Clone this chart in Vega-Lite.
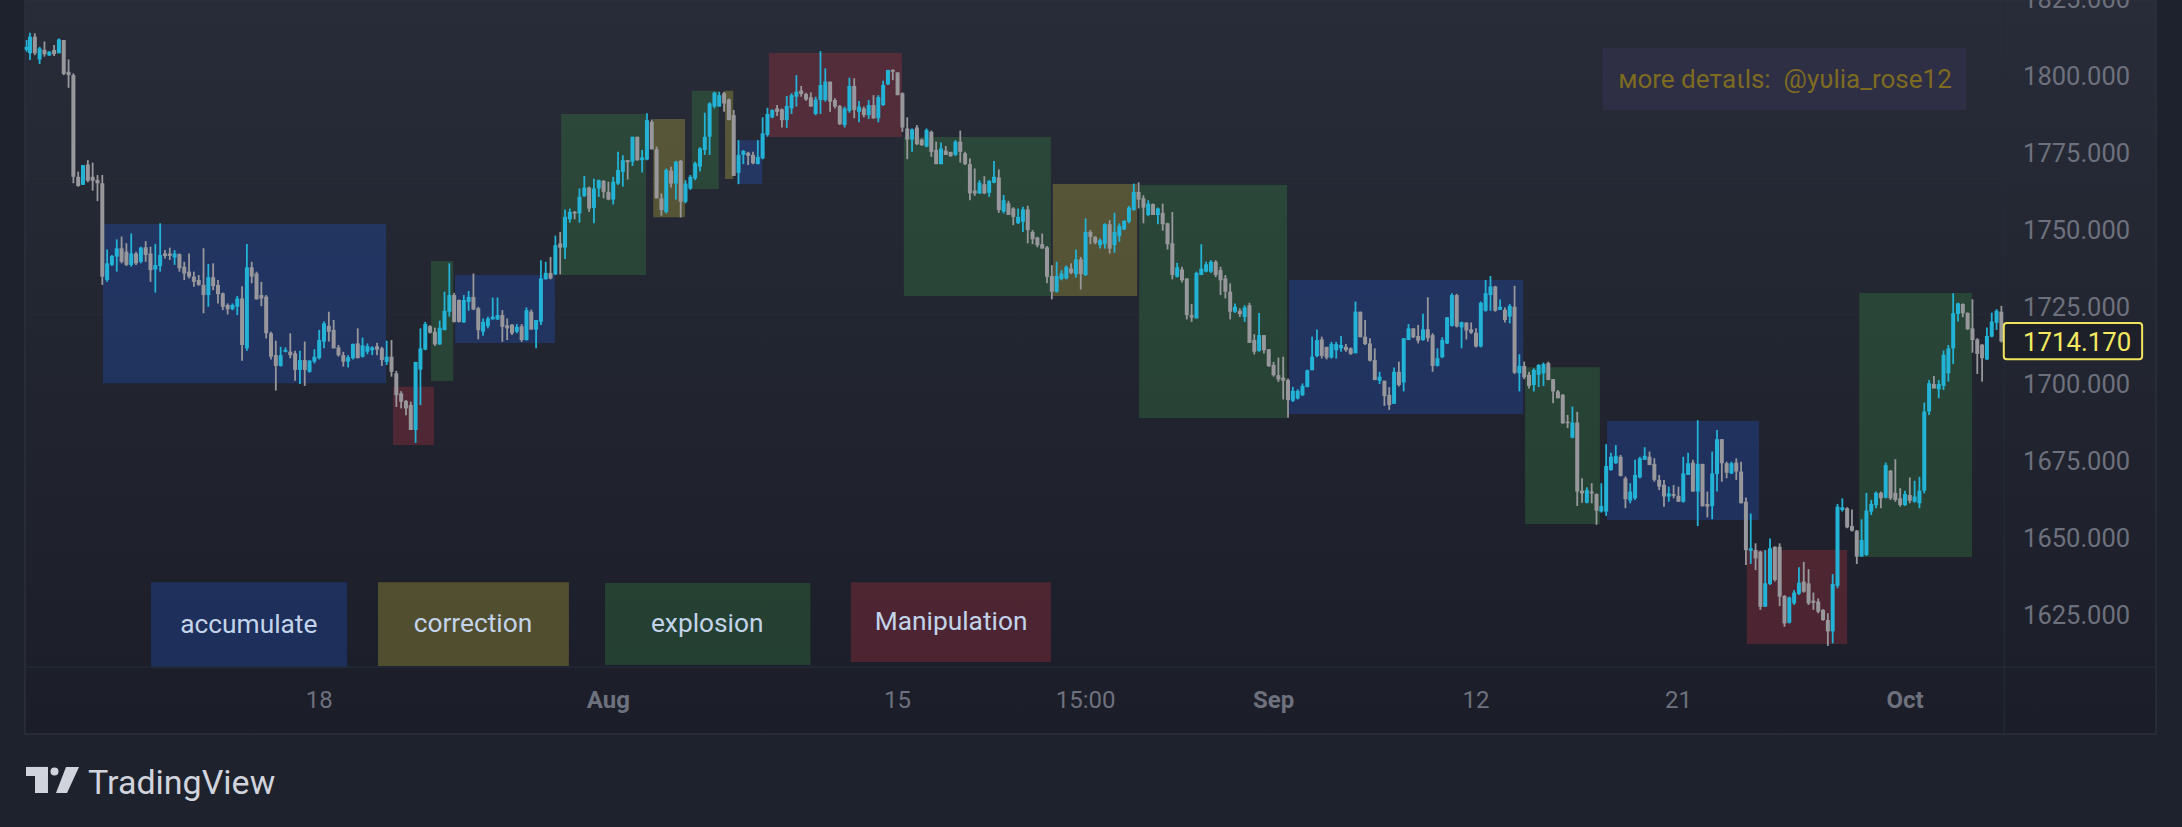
{
"$schema":"https://vega.github.io/schema/vega-lite/v6.json",
"width":2182,"height":827,"padding":0,"autosize":"none","background":"#1e222d",
"config":{"view":{"stroke":null},"font":"Roboto"},
"datasets":{
"frame":[{"t":-1.04,"t2":441.1,"p":1825,"p2":1586.7}],
"grid":[{"t":-1,"t2":409.6,"p":1767},{"t":-1,"t2":409.6,"p":1723}],
"seps":[{"t":409.6,"t2":409.6,"p":1825,"p2":1586.7},{"t":-1.04,"t2":441.1,"p":1608.4,"p2":1608.4}],
"priceTicks":[
{"t":413.5,"p":1625,"label":"1625.000"},{"t":413.5,"p":1650,"label":"1650.000"},{"t":413.5,"p":1675,"label":"1675.000"},
{"t":413.5,"p":1700,"label":"1700.000"},{"t":413.5,"p":1725,"label":"1725.000"},{"t":413.5,"p":1750,"label":"1750.000"},
{"t":413.5,"p":1775,"label":"1775.000"},{"t":413.5,"p":1800,"label":"1800.000"},{"t":413.5,"p":1825,"label":"1825.000"}],
"timeTicks":[
{"t":60,"p":1597.4,"label":"18"},{"t":180,"p":1597.4,"label":"15"},{"t":219,"p":1597.4,"label":"15:00"},
{"t":300,"p":1597.4,"label":"12"},{"t":342,"p":1597.4,"label":"21"}],
"monthTicks":[
{"t":120,"p":1597.4,"label":"Aug"},{"t":258,"p":1597.4,"label":"Sep"},{"t":389,"p":1597.4,"label":"Oct"}],
"zones":[
{"kind":"accumulate","t":15.15,"t2":73.86,"p":1752.3,"p2":1700.6},
{"kind":"Manipulation","t":75.3,"t2":83.8,"p":1699.4,"p2":1680.5},
{"kind":"explosion","t":83.2,"t2":87.8,"p":1740.3,"p2":1701.3},
{"kind":"accumulate","t":88.2,"t2":108.9,"p":1735.7,"p2":1713.6},
{"kind":"explosion","t":110.2,"t2":127.8,"p":1788,"p2":1735.7},
{"kind":"correction","t":129.3,"t2":135.9,"p":1786.4,"p2":1754.5},
{"kind":"explosion","t":137.3,"t2":142.9,"p":1795.5,"p2":1763.6},
{"kind":"correction","t":144.2,"t2":145.9,"p":1795.5,"p2":1766.9},
{"kind":"accumulate","t":146.7,"t2":151.9,"p":1779.5,"p2":1765.3},
{"kind":"Manipulation","t":153.3,"t2":180.9,"p":1807.8,"p2":1780.5},
{"kind":"explosion","t":181.3,"t2":211.8,"p":1780.5,"p2":1728.9},
{"kind":"correction","t":212.2,"t2":229.7,"p":1765.3,"p2":1728.9},
{"kind":"explosion","t":230.1,"t2":260.8,"p":1764.9,"p2":1689.3},
{"kind":"accumulate","t":261.2,"t2":309.8,"p":1734.1,"p2":1690.6},
{"kind":"explosion","t":310.2,"t2":325.7,"p":1705.8,"p2":1654.9},
{"kind":"accumulate","t":327.2,"t2":358.7,"p":1688.3,"p2":1656.2},
{"kind":"Manipulation","t":356.2,"t2":377,"p":1646.4,"p2":1615.9},
{"kind":"explosion","t":379.5,"t2":402.9,"p":1729.9,"p2":1644.2},
{"kind":"accumulate","t":25.1,"t2":65.8,"p":1636,"p2":1608.4},
{"kind":"correction","t":72.2,"t2":111.8,"p":1636,"p2":1608.8},
{"kind":"explosion","t":119.3,"t2":161.9,"p":1635.7,"p2":1609.1},
{"kind":"Manipulation","t":170.3,"t2":211.8,"p":1636,"p2":1610.1}],
"zoneLabels":[
{"label":"accumulate","t":45.4,"p":1622.1},
{"label":"correction","t":91.9,"p":1622.4},
{"label":"explosion","t":140.5,"p":1622.4},
{"label":"Manipulation","t":191.1,"p":1623.1}],
"candles":[
{"t":-0.7,"o":1808.8,"h":1812,"l":1808.2,"c":1809.8},
{"t":0,"o":1807.7,"h":1814.4,"l":1805.5,"c":1813.1},
{"t":1,"o":1813.1,"h":1814.2,"l":1807.1,"c":1807.7},
{"t":2,"o":1805.7,"h":1809.8,"l":1804.2,"c":1809.3},
{"t":3,"o":1808.8,"h":1811.5,"l":1806.6,"c":1807.4},
{"t":4,"o":1807,"h":1808.4,"l":1806.8,"c":1808.2},
{"t":5,"o":1808.8,"h":1810.4,"l":1806.8,"c":1807.4},
{"t":6,"o":1807.7,"h":1812.5,"l":1807.7,"c":1812.2},
{"t":7,"o":1812,"h":1812,"l":1800.6,"c":1801},
{"t":8,"o":1801.7,"h":1805.7,"l":1796.5,"c":1800.6},
{"t":9,"o":1800.6,"h":1801.2,"l":1765.5,"c":1767.6},
{"t":10,"o":1767.6,"h":1769.3,"l":1764.4,"c":1764.6},
{"t":11,"o":1765,"h":1771.4,"l":1764.9,"c":1771.4},
{"t":12,"o":1771.6,"h":1773,"l":1765.8,"c":1766.3},
{"t":13,"o":1767.6,"h":1772.2,"l":1763.1,"c":1766.3},
{"t":14,"o":1766.6,"h":1768.2,"l":1759.7,"c":1765.5},
{"t":15,"o":1765.5,"h":1768.2,"l":1732.5,"c":1735.2},
{"t":16,"o":1734.1,"h":1744,"l":1733.5,"c":1739.5},
{"t":17,"o":1739,"h":1742.2,"l":1738.6,"c":1741.9},
{"t":18,"o":1741.7,"h":1747.3,"l":1736.8,"c":1744.4},
{"t":19,"o":1744.4,"h":1748.2,"l":1739.5,"c":1740},
{"t":20,"o":1743.3,"h":1746,"l":1738.6,"c":1739},
{"t":21,"o":1739,"h":1749.2,"l":1738.4,"c":1742.7},
{"t":22,"o":1742.7,"h":1743.3,"l":1739,"c":1739.5},
{"t":23,"o":1740,"h":1744.9,"l":1739.5,"c":1744.6},
{"t":24,"o":1744.7,"h":1746.7,"l":1740,"c":1742.2},
{"t":25,"o":1742.7,"h":1744.9,"l":1733.5,"c":1737.3},
{"t":26,"o":1737.5,"h":1745.8,"l":1730,"c":1739},
{"t":27,"o":1738.6,"h":1752.5,"l":1736.8,"c":1742.2},
{"t":28,"o":1742.7,"h":1743.8,"l":1741.1,"c":1741.9},
{"t":29,"o":1742.7,"h":1744.6,"l":1740.6,"c":1741.9},
{"t":30,"o":1741.4,"h":1743.8,"l":1739,"c":1742.7},
{"t":31,"o":1742.5,"h":1742.7,"l":1736.8,"c":1737.9},
{"t":32,"o":1738.4,"h":1740,"l":1734.1,"c":1736.2},
{"t":33,"o":1736.8,"h":1742.7,"l":1734.6,"c":1735.2},
{"t":34,"o":1735.2,"h":1736.8,"l":1731.9,"c":1733.5},
{"t":35,"o":1734.1,"h":1735.7,"l":1732.2,"c":1732.5},
{"t":36,"o":1732.5,"h":1744.4,"l":1723.3,"c":1729.2},
{"t":37,"o":1729.2,"h":1739.3,"l":1725.4,"c":1735},
{"t":38,"o":1735,"h":1739.5,"l":1730.8,"c":1732.1},
{"t":39,"o":1732.5,"h":1734.1,"l":1726.5,"c":1729.5},
{"t":40,"o":1729.8,"h":1730,"l":1724.3,"c":1725.4},
{"t":41,"o":1726,"h":1726.5,"l":1722.9,"c":1724.6},
{"t":42,"o":1724.6,"h":1726.5,"l":1724.3,"c":1726},
{"t":43,"o":1725.4,"h":1728.9,"l":1722.7,"c":1728.1},
{"t":44,"o":1728.1,"h":1732.1,"l":1707.9,"c":1713},
{"t":45,"o":1711.9,"h":1745.8,"l":1711.1,"c":1738.2},
{"t":46,"o":1738.2,"h":1740,"l":1733,"c":1735.2},
{"t":47,"o":1736.2,"h":1736.8,"l":1727.8,"c":1727.8},
{"t":48,"o":1729.2,"h":1733.5,"l":1725.6,"c":1728.1},
{"t":49,"o":1728.7,"h":1729.2,"l":1715.1,"c":1716.8},
{"t":50,"o":1716.8,"h":1717.3,"l":1708.3,"c":1709.2},
{"t":51,"o":1709.7,"h":1714.4,"l":1698.2,"c":1706.2},
{"t":52,"o":1706.2,"h":1712.4,"l":1706,"c":1709.7},
{"t":53,"o":1710.8,"h":1712.2,"l":1710.6,"c":1711.4},
{"t":54,"o":1710.8,"h":1716.8,"l":1708.7,"c":1709.7},
{"t":55,"o":1710.3,"h":1711.1,"l":1701.4,"c":1704.9},
{"t":56,"o":1704.9,"h":1711.1,"l":1700.3,"c":1708.1},
{"t":57,"o":1708.1,"h":1714.1,"l":1699.7,"c":1704.9},
{"t":58,"o":1704.3,"h":1708.1,"l":1704,"c":1707.9},
{"t":59,"o":1707.6,"h":1711.6,"l":1707,"c":1709.2},
{"t":60,"o":1708.7,"h":1717.9,"l":1708.3,"c":1714.6},
{"t":61,"o":1714.1,"h":1720.6,"l":1711.9,"c":1720},
{"t":62,"o":1719.2,"h":1723.8,"l":1714.1,"c":1717.3},
{"t":63,"o":1717.9,"h":1721.1,"l":1711.9,"c":1711.9},
{"t":64,"o":1712.2,"h":1713,"l":1709.2,"c":1709.7},
{"t":65,"o":1709.7,"h":1710.8,"l":1706,"c":1707.6},
{"t":66,"o":1707.6,"h":1709.7,"l":1705.7,"c":1709},
{"t":67,"o":1708.7,"h":1713.5,"l":1708.3,"c":1713.3},
{"t":68,"o":1713.5,"h":1718.4,"l":1708.7,"c":1708.7},
{"t":69,"o":1709.2,"h":1715.4,"l":1708.9,"c":1712.9},
{"t":70,"o":1710.8,"h":1713.5,"l":1710,"c":1712.6},
{"t":71,"o":1711.3,"h":1712.6,"l":1709.7,"c":1712.2},
{"t":72,"o":1712.6,"h":1713.7,"l":1709.7,"c":1711.5},
{"t":73,"o":1711.9,"h":1712.4,"l":1706.2,"c":1708.1},
{"t":74,"o":1707.5,"h":1714.4,"l":1706.5,"c":1709.2},
{"t":75,"o":1709.2,"h":1714.6,"l":1702.7,"c":1704.3},
{"t":76,"o":1703.8,"h":1704.6,"l":1692.9,"c":1696.7},
{"t":77,"o":1697.3,"h":1698,"l":1692.4,"c":1694.6},
{"t":78,"o":1694.8,"h":1695.1,"l":1690.2,"c":1692.4},
{"t":79,"o":1693.5,"h":1694.6,"l":1685.4,"c":1685.4},
{"t":80,"o":1685.4,"h":1707.5,"l":1681.2,"c":1707.5},
{"t":81,"o":1705,"h":1718.4,"l":1693.5,"c":1711.9},
{"t":82,"o":1711.5,"h":1720.5,"l":1711.3,"c":1719.8},
{"t":83,"o":1719.1,"h":1719.4,"l":1716.7,"c":1717},
{"t":84,"o":1717.3,"h":1718.6,"l":1712.7,"c":1713.2},
{"t":85,"o":1713.2,"h":1720.9,"l":1713,"c":1718.6},
{"t":86,"o":1717.8,"h":1730.3,"l":1717.8,"c":1724.1},
{"t":87,"o":1723.8,"h":1739.5,"l":1722.2,"c":1729.2},
{"t":88,"o":1729.2,"h":1729.9,"l":1720.3,"c":1720.5},
{"t":89,"o":1727.6,"h":1727.8,"l":1720.3,"c":1720.5},
{"t":90,"o":1720.3,"h":1729.2,"l":1720.2,"c":1727.6},
{"t":91,"o":1727,"h":1730.5,"l":1724.1,"c":1728.6},
{"t":92,"o":1728.6,"h":1736.2,"l":1724.3,"c":1724.5},
{"t":93,"o":1724.9,"h":1725.4,"l":1714.8,"c":1717.8},
{"t":94,"o":1717.3,"h":1721.6,"l":1716,"c":1720.5},
{"t":95,"o":1719.1,"h":1722.2,"l":1718.4,"c":1721.6},
{"t":96,"o":1721.3,"h":1728.4,"l":1721.3,"c":1722.2},
{"t":97,"o":1721.3,"h":1728.4,"l":1721.1,"c":1722.7},
{"t":98,"o":1722.7,"h":1724.3,"l":1714,"c":1718.9},
{"t":99,"o":1719.4,"h":1721.6,"l":1714.6,"c":1718.4},
{"t":100,"o":1719.6,"h":1719.8,"l":1716.2,"c":1716.8},
{"t":101,"o":1717.3,"h":1719.8,"l":1716.8,"c":1718.9},
{"t":102,"o":1719.1,"h":1719.8,"l":1714,"c":1714.6},
{"t":103,"o":1714.6,"h":1725.2,"l":1714.4,"c":1724.3},
{"t":104,"o":1723.8,"h":1724.5,"l":1718,"c":1718},
{"t":105,"o":1718,"h":1721.1,"l":1711.9,"c":1721.1},
{"t":106,"o":1720.5,"h":1740.5,"l":1719.5,"c":1734.6},
{"t":107,"o":1734.3,"h":1740,"l":1734.3,"c":1736.4},
{"t":108,"o":1736.4,"h":1741.6,"l":1734.3,"c":1734.6},
{"t":109,"o":1735.9,"h":1748.5,"l":1735.7,"c":1745.4},
{"t":110,"o":1746,"h":1749.7,"l":1735.9,"c":1744.6},
{"t":111,"o":1744.6,"h":1757,"l":1740.9,"c":1754.6},
{"t":112,"o":1753.8,"h":1757.3,"l":1752.7,"c":1756.2},
{"t":113,"o":1756.2,"h":1756.5,"l":1753.8,"c":1755.7},
{"t":114,"o":1755.7,"h":1763.8,"l":1752.7,"c":1761.1},
{"t":115,"o":1761.3,"h":1767.9,"l":1761.1,"c":1764.1},
{"t":116,"o":1764.1,"h":1764.4,"l":1756.2,"c":1757.3},
{"t":117,"o":1757.5,"h":1767,"l":1752.5,"c":1763.8},
{"t":118,"o":1763.8,"h":1766.7,"l":1761.1,"c":1766.5},
{"t":119,"o":1766.3,"h":1766.5,"l":1760.6,"c":1762.7},
{"t":120,"o":1762.7,"h":1766,"l":1760,"c":1760.2},
{"t":121,"o":1760.2,"h":1767.6,"l":1758.6,"c":1766},
{"t":122,"o":1765.4,"h":1775.7,"l":1764.9,"c":1769.8},
{"t":123,"o":1769.2,"h":1774.6,"l":1764.4,"c":1773},
{"t":124,"o":1773,"h":1773,"l":1766.7,"c":1772.3},
{"t":125,"o":1772.5,"h":1780.6,"l":1771.1,"c":1780.6},
{"t":126,"o":1780.6,"h":1780.6,"l":1772.8,"c":1773},
{"t":127,"o":1773,"h":1776.3,"l":1769,"c":1773.9},
{"t":128,"o":1773.2,"h":1788.2,"l":1773,"c":1786},
{"t":129,"o":1785.5,"h":1786.2,"l":1776.5,"c":1776.5},
{"t":130,"o":1776.5,"h":1777.4,"l":1760.6,"c":1760.6},
{"t":131,"o":1760.6,"h":1762.2,"l":1755,"c":1756.8},
{"t":132,"o":1756.2,"h":1770.3,"l":1755.7,"c":1769.8},
{"t":133,"o":1769.6,"h":1770.9,"l":1764.1,"c":1765.4},
{"t":134,"o":1765.4,"h":1772.8,"l":1760.2,"c":1772.5},
{"t":135,"o":1772.8,"h":1773,"l":1754.4,"c":1759.5},
{"t":136,"o":1759.5,"h":1766.5,"l":1759,"c":1765.4},
{"t":137,"o":1763.8,"h":1768.2,"l":1763.3,"c":1767.6},
{"t":138,"o":1767.1,"h":1772.5,"l":1766.5,"c":1772},
{"t":139,"o":1770.9,"h":1777.2,"l":1769.3,"c":1776.8},
{"t":140,"o":1776.3,"h":1788.4,"l":1774.7,"c":1780.6},
{"t":141,"o":1780.6,"h":1791.8,"l":1774.7,"c":1791.4},
{"t":142,"o":1790.4,"h":1795.2,"l":1789.8,"c":1794.9},
{"t":143,"o":1790.4,"h":1795.2,"l":1790.4,"c":1794.1},
{"t":144,"o":1794.7,"h":1795.2,"l":1788.7,"c":1791.4},
{"t":145,"o":1792.7,"h":1793,"l":1786,"c":1786},
{"t":146,"o":1787.6,"h":1789.3,"l":1767.9,"c":1767.9},
{"t":147,"o":1768.9,"h":1779.5,"l":1765.2,"c":1774.7},
{"t":148,"o":1774.7,"h":1776.3,"l":1771.7,"c":1776},
{"t":149,"o":1775.4,"h":1775.7,"l":1771.4,"c":1774.4},
{"t":150,"o":1774.7,"h":1775.7,"l":1771.7,"c":1772},
{"t":151,"o":1771.7,"h":1779.5,"l":1771.7,"c":1774.1},
{"t":152,"o":1773.6,"h":1786.9,"l":1773.3,"c":1781.7},
{"t":153,"o":1781.2,"h":1790,"l":1780.6,"c":1788},
{"t":154,"o":1786.9,"h":1789.5,"l":1786.6,"c":1789.3},
{"t":155,"o":1789.8,"h":1790.9,"l":1787.3,"c":1788.7},
{"t":156,"o":1789.5,"h":1789.8,"l":1783.6,"c":1786},
{"t":157,"o":1786,"h":1793.8,"l":1783.5,"c":1790.6},
{"t":158,"o":1789.8,"h":1794.7,"l":1788,"c":1794.1},
{"t":159,"o":1793.6,"h":1800.6,"l":1790.4,"c":1795.2},
{"t":160,"o":1795.6,"h":1797.1,"l":1793.6,"c":1794.5},
{"t":161,"o":1794.5,"h":1794.9,"l":1792.3,"c":1792.7},
{"t":162,"o":1793.4,"h":1795,"l":1790.4,"c":1790.4},
{"t":163,"o":1788,"h":1793.6,"l":1787.6,"c":1792.7},
{"t":164,"o":1792.5,"h":1808.4,"l":1788,"c":1797.4},
{"t":165,"o":1792.5,"h":1802.8,"l":1792,"c":1798.5},
{"t":166,"o":1798.5,"h":1798.5,"l":1788.7,"c":1792},
{"t":167,"o":1792.5,"h":1793.1,"l":1789.8,"c":1790.4},
{"t":168,"o":1790.6,"h":1790.9,"l":1784.4,"c":1784.7},
{"t":169,"o":1784.4,"h":1790.4,"l":1783.6,"c":1789.8},
{"t":170,"o":1789,"h":1799.8,"l":1788.4,"c":1797.1},
{"t":171,"o":1797.1,"h":1799.6,"l":1786.6,"c":1789.3},
{"t":172,"o":1788.7,"h":1792.2,"l":1785.3,"c":1790.4},
{"t":173,"o":1789.8,"h":1790.4,"l":1786.9,"c":1787.6},
{"t":174,"o":1787.6,"h":1792.5,"l":1786.4,"c":1790.9},
{"t":175,"o":1790.9,"h":1794.1,"l":1786.4,"c":1786.6},
{"t":176,"o":1786.6,"h":1794.1,"l":1785.3,"c":1793.5},
{"t":177,"o":1790.9,"h":1798.8,"l":1790.6,"c":1797.4},
{"t":178,"o":1797.6,"h":1802.3,"l":1797.4,"c":1802.3},
{"t":179,"o":1802.3,"h":1802.5,"l":1799,"c":1801.7},
{"t":180,"o":1801.5,"h":1801.5,"l":1794.1,"c":1794.1},
{"t":181,"o":1794.7,"h":1795,"l":1782.2,"c":1783.6},
{"t":182,"o":1783.3,"h":1786.9,"l":1773.3,"c":1779.7},
{"t":183,"o":1779.7,"h":1783.3,"l":1775.7,"c":1783},
{"t":184,"o":1783.6,"h":1784.4,"l":1777.9,"c":1778.2},
{"t":185,"o":1779.7,"h":1780,"l":1777.6,"c":1777.9},
{"t":186,"o":1777.4,"h":1783.3,"l":1777.2,"c":1782.8},
{"t":187,"o":1782.2,"h":1782.6,"l":1774.1,"c":1775.7},
{"t":188,"o":1776.3,"h":1779,"l":1771.7,"c":1771.7},
{"t":189,"o":1771.7,"h":1778.7,"l":1771.7,"c":1776.8},
{"t":190,"o":1776.1,"h":1777.6,"l":1774.7,"c":1774.7},
{"t":191,"o":1775.7,"h":1775.7,"l":1774.1,"c":1774.3},
{"t":192,"o":1774.7,"h":1779.5,"l":1774.3,"c":1779},
{"t":193,"o":1779,"h":1782.6,"l":1772.2,"c":1775.7},
{"t":194,"o":1775.2,"h":1775.7,"l":1771.4,"c":1771.7},
{"t":195,"o":1771.7,"h":1773.6,"l":1760,"c":1762.2},
{"t":196,"o":1763.1,"h":1770.3,"l":1761.4,"c":1762.2},
{"t":197,"o":1762.2,"h":1766.5,"l":1762,"c":1765.7},
{"t":198,"o":1765.2,"h":1767.8,"l":1762,"c":1762.2},
{"t":199,"o":1762.4,"h":1766.5,"l":1761.1,"c":1766.3},
{"t":200,"o":1765.7,"h":1772.7,"l":1765.5,"c":1767.6},
{"t":201,"o":1767.4,"h":1770,"l":1755.9,"c":1756.8},
{"t":202,"o":1756.3,"h":1761.7,"l":1755.7,"c":1760},
{"t":203,"o":1759,"h":1759.8,"l":1755.2,"c":1755.2},
{"t":204,"o":1757.3,"h":1757.7,"l":1751.9,"c":1754.6},
{"t":205,"o":1752.5,"h":1757.3,"l":1752.3,"c":1754.6},
{"t":206,"o":1753,"h":1757.9,"l":1749.7,"c":1757},
{"t":207,"o":1757,"h":1758.2,"l":1746,"c":1750.3},
{"t":208,"o":1749.7,"h":1750.3,"l":1745.7,"c":1747.3},
{"t":209,"o":1747.9,"h":1748.1,"l":1744.7,"c":1745.4},
{"t":210,"o":1745.7,"h":1749.2,"l":1744.3,"c":1744.3},
{"t":211,"o":1744.7,"h":1745.1,"l":1733,"c":1735.1},
{"t":212,"o":1735.4,"h":1738.9,"l":1727.8,"c":1730.3},
{"t":213,"o":1730.3,"h":1740,"l":1730,"c":1735.4},
{"t":214,"o":1734.4,"h":1737.3,"l":1734,"c":1736.2},
{"t":215,"o":1734.6,"h":1738.8,"l":1734.3,"c":1738.4},
{"t":216,"o":1737.8,"h":1739.5,"l":1736,"c":1736.4},
{"t":217,"o":1736,"h":1744,"l":1734.9,"c":1740.8},
{"t":218,"o":1740.8,"h":1741.6,"l":1731,"c":1736},
{"t":219,"o":1735.7,"h":1754.1,"l":1735.4,"c":1749.7},
{"t":220,"o":1749.7,"h":1750.3,"l":1745.7,"c":1748.1},
{"t":221,"o":1748.1,"h":1748.3,"l":1745.7,"c":1746.2},
{"t":222,"o":1745.4,"h":1747.6,"l":1744.3,"c":1747},
{"t":223,"o":1745.7,"h":1752.5,"l":1744.3,"c":1752.2},
{"t":224,"o":1752.2,"h":1753.5,"l":1742.7,"c":1744.3},
{"t":225,"o":1745.4,"h":1755.9,"l":1742.9,"c":1749.7},
{"t":226,"o":1748.3,"h":1752.5,"l":1746.5,"c":1751.6},
{"t":227,"o":1750.5,"h":1753.5,"l":1750.3,"c":1753.3},
{"t":228,"o":1753,"h":1758.1,"l":1752.5,"c":1757.6},
{"t":229,"o":1756.8,"h":1765.4,"l":1756.6,"c":1762.7},
{"t":230,"o":1762.7,"h":1765.8,"l":1757.3,"c":1760.2},
{"t":231,"o":1760.6,"h":1761.6,"l":1752.5,"c":1757.6},
{"t":232,"o":1755.2,"h":1760,"l":1754.8,"c":1758.9},
{"t":233,"o":1758.7,"h":1758.9,"l":1755.2,"c":1755.2},
{"t":234,"o":1755.2,"h":1757.6,"l":1752.2,"c":1757.3},
{"t":235,"o":1755.9,"h":1758.9,"l":1750.1,"c":1752.2},
{"t":236,"o":1752.5,"h":1752.7,"l":1744,"c":1745.7},
{"t":237,"o":1746,"h":1756.2,"l":1734.3,"c":1735.7},
{"t":238,"o":1735.1,"h":1739.7,"l":1734.9,"c":1738.2},
{"t":239,"o":1737.5,"h":1738.4,"l":1733.3,"c":1734},
{"t":240,"o":1734.6,"h":1734.6,"l":1721.3,"c":1722.7},
{"t":241,"o":1722.7,"h":1726.3,"l":1720.5,"c":1721.9},
{"t":242,"o":1721.6,"h":1736.8,"l":1721.6,"c":1736.4},
{"t":243,"o":1735.7,"h":1745.7,"l":1735.7,"c":1737.8},
{"t":244,"o":1736.8,"h":1740,"l":1736.6,"c":1739.2},
{"t":245,"o":1736.8,"h":1740.5,"l":1736.4,"c":1740},
{"t":246,"o":1740,"h":1740.5,"l":1735,"c":1735.7},
{"t":247,"o":1737.3,"h":1738.4,"l":1729.2,"c":1734},
{"t":248,"o":1734.6,"h":1735.7,"l":1728.1,"c":1730.3},
{"t":249,"o":1730.3,"h":1733,"l":1721.3,"c":1723.8},
{"t":250,"o":1723.8,"h":1726.5,"l":1723.4,"c":1725.4},
{"t":251,"o":1724.1,"h":1724.9,"l":1722.1,"c":1723},
{"t":252,"o":1722.1,"h":1725.9,"l":1720.5,"c":1725.2},
{"t":253,"o":1725.9,"h":1726.7,"l":1713.7,"c":1713.7},
{"t":254,"o":1714.6,"h":1716.5,"l":1709.9,"c":1710.8},
{"t":255,"o":1711.1,"h":1723.4,"l":1710.8,"c":1716.2},
{"t":256,"o":1716.2,"h":1716.2,"l":1710.2,"c":1711.3},
{"t":257,"o":1711.6,"h":1711.7,"l":1705.9,"c":1706.1},
{"t":258,"o":1706.5,"h":1707.5,"l":1702.7,"c":1703.2},
{"t":259,"o":1703.2,"h":1708.9,"l":1701,"c":1701.8},
{"t":260,"o":1702.4,"h":1709.2,"l":1695.3,"c":1701.4},
{"t":261,"o":1701.6,"h":1702.1,"l":1689.4,"c":1695.1},
{"t":262,"o":1694.9,"h":1699.4,"l":1694.5,"c":1698.1},
{"t":263,"o":1695.6,"h":1698.6,"l":1695.3,"c":1698.1},
{"t":264,"o":1696.7,"h":1700.5,"l":1696.4,"c":1699.7},
{"t":265,"o":1699.4,"h":1705,"l":1699.2,"c":1704.8},
{"t":266,"o":1704.8,"h":1715.7,"l":1704.8,"c":1709.2},
{"t":267,"o":1709.4,"h":1718,"l":1709,"c":1714.6},
{"t":268,"o":1714.8,"h":1715.7,"l":1708.6,"c":1709.4},
{"t":269,"o":1712.4,"h":1712.4,"l":1708.3,"c":1708.9},
{"t":270,"o":1708.9,"h":1714,"l":1708.6,"c":1713.3},
{"t":271,"o":1711.3,"h":1714,"l":1708.6,"c":1713.3},
{"t":272,"o":1711.9,"h":1715.9,"l":1710.8,"c":1713},
{"t":273,"o":1712.4,"h":1713.3,"l":1710.8,"c":1711.3},
{"t":274,"o":1711.9,"h":1712.2,"l":1709.8,"c":1710.1},
{"t":275,"o":1710.3,"h":1727.1,"l":1710.3,"c":1723.8},
{"t":276,"o":1723.8,"h":1723.8,"l":1715.5,"c":1715.5},
{"t":277,"o":1715.7,"h":1721.1,"l":1713,"c":1713.3},
{"t":278,"o":1713.5,"h":1715.2,"l":1707.6,"c":1707.9},
{"t":279,"o":1708.1,"h":1711.9,"l":1701.6,"c":1701.6},
{"t":280,"o":1701.4,"h":1704.3,"l":1700.3,"c":1702.7},
{"t":281,"o":1701.4,"h":1701.4,"l":1693.2,"c":1696.4},
{"t":282,"o":1696.8,"h":1699.3,"l":1691.9,"c":1693.5},
{"t":283,"o":1693.9,"h":1705.7,"l":1693.9,"c":1704.3},
{"t":284,"o":1704.3,"h":1707.6,"l":1699.5,"c":1700},
{"t":285,"o":1700.8,"h":1715.2,"l":1697.9,"c":1715.2},
{"t":286,"o":1714.6,"h":1719.8,"l":1714.6,"c":1718.4},
{"t":287,"o":1718.4,"h":1718.4,"l":1715.2,"c":1715.5},
{"t":288,"o":1715.9,"h":1719.5,"l":1713.5,"c":1714.4},
{"t":289,"o":1714.6,"h":1723.1,"l":1714.4,"c":1718.1},
{"t":290,"o":1718.1,"h":1728.5,"l":1714.1,"c":1715.2},
{"t":291,"o":1716.2,"h":1716.8,"l":1704.3,"c":1706.2},
{"t":292,"o":1706.2,"h":1711.9,"l":1706,"c":1708.7},
{"t":293,"o":1709,"h":1715.5,"l":1708.7,"c":1714.6},
{"t":294,"o":1713.5,"h":1722,"l":1713.3,"c":1722},
{"t":295,"o":1719.2,"h":1729.8,"l":1719,"c":1729.2},
{"t":296,"o":1729.2,"h":1729.6,"l":1718.7,"c":1719},
{"t":297,"o":1718.7,"h":1720.6,"l":1711.9,"c":1720.4},
{"t":298,"o":1720.3,"h":1720.3,"l":1714.8,"c":1717.7},
{"t":299,"o":1718.1,"h":1720.3,"l":1716.6,"c":1717},
{"t":300,"o":1717,"h":1718.4,"l":1712.2,"c":1712.5},
{"t":301,"o":1712.5,"h":1727.1,"l":1712.2,"c":1726.7},
{"t":302,"o":1724.1,"h":1734.1,"l":1723.8,"c":1729.8},
{"t":303,"o":1729.2,"h":1735.4,"l":1724.1,"c":1732},
{"t":304,"o":1732,"h":1732.2,"l":1723.8,"c":1724.1},
{"t":305,"o":1724.4,"h":1727.8,"l":1724.4,"c":1725.4},
{"t":306,"o":1724.4,"h":1725.2,"l":1720.3,"c":1721.1},
{"t":307,"o":1722.2,"h":1726.3,"l":1720,"c":1725.7},
{"t":308,"o":1725.4,"h":1732.2,"l":1703.6,"c":1704},
{"t":309,"o":1703.8,"h":1710,"l":1697.9,"c":1706.2},
{"t":310,"o":1706.2,"h":1707.6,"l":1701.9,"c":1702.5},
{"t":311,"o":1703.3,"h":1704.3,"l":1698.9,"c":1699.7},
{"t":312,"o":1700,"h":1705.4,"l":1697.9,"c":1704.9},
{"t":313,"o":1703.3,"h":1706.8,"l":1699.3,"c":1706.5},
{"t":314,"o":1703.8,"h":1707.3,"l":1699.7,"c":1706.8},
{"t":315,"o":1707.1,"h":1707.6,"l":1701.6,"c":1701.6},
{"t":316,"o":1701.9,"h":1701.9,"l":1694.1,"c":1697.9},
{"t":317,"o":1697.9,"h":1698.4,"l":1695.7,"c":1695.7},
{"t":318,"o":1696.8,"h":1697.1,"l":1687.4,"c":1687.6},
{"t":319,"o":1688.1,"h":1690.3,"l":1686,"c":1687.6},
{"t":320,"o":1682.9,"h":1693,"l":1682.7,"c":1687.8},
{"t":321,"o":1687.8,"h":1691.3,"l":1660.7,"c":1665.4},
{"t":322,"o":1665.7,"h":1669.7,"l":1661.8,"c":1664.8},
{"t":323,"o":1661.8,"h":1666.8,"l":1661.6,"c":1665.9},
{"t":324,"o":1665.4,"h":1668.1,"l":1661.6,"c":1664.8},
{"t":325,"o":1664.6,"h":1664.8,"l":1654.6,"c":1659.2},
{"t":326,"o":1658.9,"h":1668.1,"l":1658.6,"c":1660.7},
{"t":327,"o":1658.9,"h":1680.8,"l":1657.5,"c":1673.7},
{"t":328,"o":1672.4,"h":1678,"l":1672.2,"c":1676.7},
{"t":329,"o":1674.6,"h":1680.5,"l":1674.4,"c":1677},
{"t":330,"o":1676.7,"h":1677.3,"l":1670.3,"c":1670.5},
{"t":331,"o":1669.7,"h":1670.3,"l":1660,"c":1662.9},
{"t":332,"o":1662.5,"h":1668.1,"l":1661.6,"c":1665.4},
{"t":333,"o":1663.2,"h":1675.7,"l":1662.7,"c":1670.8},
{"t":334,"o":1670,"h":1676.7,"l":1669.7,"c":1676.2},
{"t":335,"o":1675.7,"h":1679.8,"l":1675.7,"c":1677},
{"t":336,"o":1676.7,"h":1678.4,"l":1674,"c":1674},
{"t":337,"o":1674.4,"h":1676.2,"l":1668.6,"c":1669.2},
{"t":338,"o":1669.2,"h":1670.8,"l":1665.9,"c":1667},
{"t":339,"o":1667.6,"h":1669.2,"l":1660.5,"c":1663.8},
{"t":340,"o":1663.8,"h":1667,"l":1662.1,"c":1664.8},
{"t":341,"o":1664.6,"h":1667.5,"l":1663.2,"c":1664},
{"t":342,"o":1664,"h":1667,"l":1662.1,"c":1662.1},
{"t":343,"o":1662.1,"h":1676.7,"l":1661.8,"c":1671.3},
{"t":344,"o":1670.8,"h":1678,"l":1670.8,"c":1674.6},
{"t":345,"o":1674.8,"h":1675.7,"l":1665.4,"c":1665.4},
{"t":346,"o":1665.4,"h":1688.6,"l":1654.2,"c":1674.4},
{"t":347,"o":1674.4,"h":1674.4,"l":1660.5,"c":1660.7},
{"t":348,"o":1661.4,"h":1665.4,"l":1657,"c":1660.5},
{"t":349,"o":1660.7,"h":1678.4,"l":1656.4,"c":1671.3},
{"t":350,"o":1671.1,"h":1685.4,"l":1665.4,"c":1682.4},
{"t":351,"o":1682.4,"h":1682.4,"l":1668.6,"c":1674.6},
{"t":352,"o":1674.6,"h":1675.1,"l":1669.7,"c":1671.5},
{"t":353,"o":1671.3,"h":1675.1,"l":1671.1,"c":1674.6},
{"t":354,"o":1674.8,"h":1676.2,"l":1669.2,"c":1671.9},
{"t":355,"o":1671.9,"h":1675.1,"l":1661.6,"c":1661.6},
{"t":356,"o":1662.1,"h":1663.5,"l":1641.6,"c":1646.4},
{"t":357,"o":1646.2,"h":1658.3,"l":1641.9,"c":1647},
{"t":358,"o":1646.4,"h":1648.6,"l":1639.9,"c":1643.7},
{"t":359,"o":1645.9,"h":1646.2,"l":1627,"c":1628},
{"t":360,"o":1628,"h":1646.4,"l":1628,"c":1635.6},
{"t":361,"o":1635.4,"h":1650.2,"l":1635.1,"c":1647},
{"t":362,"o":1647.5,"h":1647.6,"l":1636.2,"c":1636.7},
{"t":363,"o":1647.5,"h":1648.6,"l":1628.2,"c":1631.3},
{"t":364,"o":1631.5,"h":1631.8,"l":1621.5,"c":1622.6},
{"t":365,"o":1622.8,"h":1631.3,"l":1622.6,"c":1631},
{"t":366,"o":1629.1,"h":1633.4,"l":1628.6,"c":1632.6},
{"t":367,"o":1632.2,"h":1640.8,"l":1631.8,"c":1635.8},
{"t":368,"o":1636.2,"h":1642.6,"l":1632.6,"c":1632.9},
{"t":369,"o":1635.6,"h":1640.2,"l":1628.6,"c":1629.1},
{"t":370,"o":1630,"h":1632.6,"l":1627,"c":1629.3},
{"t":371,"o":1629.7,"h":1630.7,"l":1625.9,"c":1626.4},
{"t":372,"o":1627,"h":1627.2,"l":1623.5,"c":1623.7},
{"t":373,"o":1623.7,"h":1625.9,"l":1615.3,"c":1620},
{"t":374,"o":1620,"h":1638.6,"l":1616.1,"c":1635.4},
{"t":375,"o":1634.8,"h":1661.4,"l":1634,"c":1660.5},
{"t":376,"o":1659.4,"h":1663.2,"l":1658.9,"c":1660.3},
{"t":377,"o":1660,"h":1660.3,"l":1653.5,"c":1653.8},
{"t":378,"o":1654.2,"h":1659.6,"l":1652.4,"c":1652.7},
{"t":379,"o":1652.7,"h":1652.9,"l":1641.9,"c":1644.3},
{"t":380,"o":1644.3,"h":1656.4,"l":1644.3,"c":1649.7},
{"t":381,"o":1644.8,"h":1665,"l":1644.5,"c":1659.2},
{"t":382,"o":1658.9,"h":1662.7,"l":1657.8,"c":1661.4},
{"t":383,"o":1661,"h":1665.4,"l":1660,"c":1665},
{"t":384,"o":1665,"h":1665.4,"l":1660,"c":1663.2},
{"t":385,"o":1663.4,"h":1674.8,"l":1663.2,"c":1674},
{"t":386,"o":1672.2,"h":1672.4,"l":1662.7,"c":1663.2},
{"t":387,"o":1665,"h":1675.9,"l":1662.1,"c":1662.7},
{"t":388,"o":1663.2,"h":1666.5,"l":1660.5,"c":1661},
{"t":389,"o":1661,"h":1665.7,"l":1660.7,"c":1664.6},
{"t":390,"o":1664.3,"h":1670,"l":1661.6,"c":1662.4},
{"t":391,"o":1662.1,"h":1668.9,"l":1661.8,"c":1663.8},
{"t":392,"o":1661.6,"h":1670.2,"l":1660,"c":1665.7},
{"t":393,"o":1665.7,"h":1694.3,"l":1664.8,"c":1691.4},
{"t":394,"o":1691.4,"h":1701.6,"l":1690.3,"c":1700.6},
{"t":395,"o":1700.3,"h":1702.9,"l":1698.9,"c":1698.9},
{"t":396,"o":1698.6,"h":1701.6,"l":1695.7,"c":1700.3},
{"t":397,"o":1699.7,"h":1711.2,"l":1698.4,"c":1709.8},
{"t":398,"o":1703.8,"h":1713,"l":1701.1,"c":1711.9},
{"t":399,"o":1711.9,"h":1729.8,"l":1706.8,"c":1723.3},
{"t":400,"o":1723.1,"h":1726.7,"l":1720.6,"c":1726.5},
{"t":401,"o":1726.3,"h":1726.5,"l":1722,"c":1723.3},
{"t":402,"o":1723.4,"h":1723.6,"l":1717.9,"c":1718.1},
{"t":403,"o":1718.4,"h":1727.8,"l":1710.5,"c":1714.6},
{"t":404,"o":1714.8,"h":1715.2,"l":1703.6,"c":1710.1},
{"t":405,"o":1713.1,"h":1713.3,"l":1701.1,"c":1708.7},
{"t":406,"o":1708.3,"h":1718.7,"l":1708.1,"c":1715.9},
{"t":407,"o":1715.7,"h":1723.5,"l":1715.5,"c":1720.6},
{"t":408,"o":1720.2,"h":1724.6,"l":1717.9,"c":1724.1},
{"t":409,"o":1723.8,"h":1725.7,"l":1713.8,"c":1714.17}]
},
"layer":[
{"data":{"name":"frame"},
 "mark":{"type":"rect","stroke":"#2b303c","strokeWidth":1.5,"color":{"x1":0,"y1":0,"x2":0,"y2":1,"gradient":"linear","stops":[{"offset":0,"color":"#282c38"},{"offset":1,"color":"#1b1e28"}]}},
 "encoding":{
  "x":{"field":"t","type":"quantitative","scale":{"domain":[-6.224,446.473],"nice":false,"zero":false,"padding":0},"title":null,"axis":null},
  "x2":{"field":"t2"},
  "y":{"field":"p","type":"quantitative","scale":{"domain":[1556.5,1825],"nice":false,"zero":false,"padding":0},"title":null,"axis":null},
  "y2":{"field":"p2"}}},
{"data":{"name":"grid"},
 "mark":{"type":"rule","stroke":"#323642","strokeWidth":1,"strokeDash":[1,3]},
 "encoding":{"x":{"field":"t","type":"quantitative","axis":null},"x2":{"field":"t2"},"y":{"field":"p","type":"quantitative","axis":null}}},
{"data":{"name":"zones"},
 "mark":{"type":"rect","opacity":0.26},
 "encoding":{"x":{"field":"t","type":"quantitative","axis":null},"x2":{"field":"t2"},"y":{"field":"p","type":"quantitative","axis":null},"y2":{"field":"p2"},
  "color":{"field":"kind","type":"nominal","legend":null,"scale":{"domain":["accumulate","correction","explosion","Manipulation"],"range":["#225de7","#e6d543","#3e9d4b","#da354b"]}}}},
{"data":{"values":[{"t":326.3,"t2":401.8,"p":1809.4,"p2":1789.3}]},
 "mark":{"type":"rect","color":"#2e2e44"},
 "encoding":{"x":{"field":"t","type":"quantitative","axis":null},"x2":{"field":"t2"},"y":{"field":"p","type":"quantitative","axis":null},"y2":{"field":"p2"}}},
{"data":{"name":"candles"},
 "mark":{"type":"rule","strokeWidth":1.8},
 "encoding":{"x":{"field":"t","type":"quantitative","axis":null},"y":{"field":"h","type":"quantitative","axis":null},"y2":{"field":"l"},
  "color":{"condition":{"test":"datum.c>=datum.o","value":"#22b3d6"},"value":"#98989c"}}},
{"data":{"name":"candles"},
 "mark":{"type":"bar","size":4},
 "encoding":{"x":{"field":"t","type":"quantitative","axis":null},"y":{"field":"o","type":"quantitative","axis":null,"stack":null},"y2":{"field":"c"},
  "color":{"condition":{"test":"datum.c>=datum.o","value":"#22b3d6"},"value":"#98989c"}}},
{"data":{"name":"seps"},
 "mark":{"type":"rule","stroke":"#232c39","strokeWidth":1.2},
 "encoding":{"x":{"field":"t","type":"quantitative","axis":null},"x2":{"field":"t2"},"y":{"field":"p","type":"quantitative","axis":null},"y2":{"field":"p2"}}},
{"data":{"name":"priceTicks"},
 "mark":{"type":"text","align":"left","baseline":"middle","font":"Roboto","fontSize":25.5,"color":"#6d717d"},
 "encoding":{"x":{"field":"t","type":"quantitative","axis":null},"y":{"field":"p","type":"quantitative","axis":null},"text":{"field":"label"}}},
{"data":{"name":"timeTicks"},
 "mark":{"type":"text","align":"center","baseline":"middle","font":"Roboto","fontSize":24,"color":"#6d717d"},
 "encoding":{"x":{"field":"t","type":"quantitative","axis":null},"y":{"field":"p","type":"quantitative","axis":null},"text":{"field":"label"}}},
{"data":{"name":"monthTicks"},
 "mark":{"type":"text","align":"center","baseline":"middle","font":"Roboto","fontSize":24,"fontWeight":"bold","color":"#6d717d"},
 "encoding":{"x":{"field":"t","type":"quantitative","axis":null},"y":{"field":"p","type":"quantitative","axis":null},"text":{"field":"label"}}},
{"data":{"values":[{"t":409.5,"t2":438.2,"p":1720.1,"p2":1708.4}]},
 "mark":{"type":"rect","fill":"#1e2029","stroke":"#f0e35e","strokeWidth":2,"cornerRadius":3},
 "encoding":{"x":{"field":"t","type":"quantitative","axis":null},"x2":{"field":"t2"},"y":{"field":"p","type":"quantitative","axis":null},"y2":{"field":"p2"}}},
{"data":{"values":[{"t":413.5,"p":1713.6,"label":"1714.170"}]},
 "mark":{"type":"text","align":"left","baseline":"middle","font":"Roboto","fontSize":25.8,"color":"#f3ea60"},
 "encoding":{"x":{"field":"t","type":"quantitative","axis":null},"y":{"field":"p","type":"quantitative","axis":null},"text":{"field":"label"}}},
{"data":{"name":"zoneLabels"},
 "mark":{"type":"text","align":"center","baseline":"middle","font":"Roboto","fontSize":26.3,"color":"#c3d4ea"},
 "encoding":{"x":{"field":"t","type":"quantitative","axis":null},"y":{"field":"p","type":"quantitative","axis":null},"text":{"field":"label"}}},
{"data":{"values":[{"t":364.1,"p":1799,"label":"мore deтaιls:\u00a0\u00a0@yυlia_rose12"}]},
 "mark":{"type":"text","align":"center","baseline":"middle","font":"Roboto","fontSize":26,"color":"#7d6b22"},
 "encoding":{"x":{"field":"t","type":"quantitative","axis":null},"y":{"field":"p","type":"quantitative","axis":null},"text":{"field":"label"}}},
{"data":{"values":[{"t":-0.83,"t2":3.73,"p":1576,"p2":1573.05},{"t":1.04,"t2":3.73,"p":1576,"p2":1567.5}]},
 "mark":{"type":"rect","color":"#d1d4dc"},
 "encoding":{"x":{"field":"t","type":"quantitative","axis":null},"x2":{"field":"t2"},"y":{"field":"p","type":"quantitative","axis":null},"y2":{"field":"p2"}}},
{"data":{"values":[{"t":5.08,"p":1574.5}]},
 "mark":{"type":"point","shape":"circle","filled":true,"size":64,"color":"#d1d4dc","opacity":1},
 "encoding":{"x":{"field":"t","type":"quantitative","axis":null},"y":{"field":"p","type":"quantitative","axis":null}}},
{"data":{"values":[{"p":1576,"t":7.47,"t2":10.17},{"p":1567.5,"t":5.39,"t2":7.68}]},
 "mark":{"type":"area","orient":"horizontal","color":"#d1d4dc"},
 "encoding":{"y":{"field":"p","type":"quantitative","axis":null},"x":{"field":"t","type":"quantitative","axis":null,"stack":null},"x2":{"field":"t2"}}},
{"data":{"values":[{"t":12.03,"p":1570.5,"label":"TradingView"}]},
 "mark":{"type":"text","align":"left","baseline":"middle","font":"Roboto","fontSize":34,"color":"#d1d4dc"},
 "encoding":{"x":{"field":"t","type":"quantitative","axis":null},"y":{"field":"p","type":"quantitative","axis":null},"text":{"field":"label"}}}
]
}
